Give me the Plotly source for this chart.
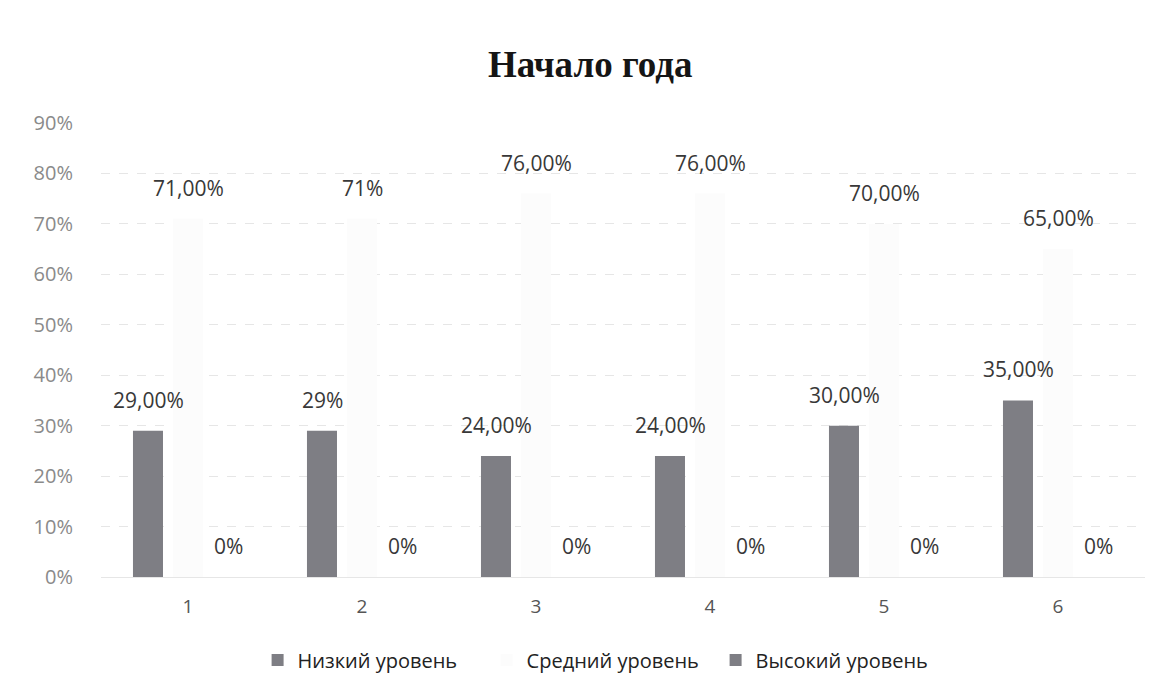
import plotly.graph_objects as go

categories = ["1", "2", "3", "4", "5", "6"]
low_values = [0.29, 0.29, 0.24, 0.24, 0.30, 0.35]
mid_values = [0.71, 0.71, 0.76, 0.76, 0.70, 0.65]
high_values = [0, 0, 0, 0, 0, 0]
low_labels = ["29,00%", "29%", "24,00%", "24,00%", "30,00%", "35,00%"]
mid_labels = ["71,00%", "71%", "76,00%", "76,00%", "70,00%", "65,00%"]
high_labels = ["0%", "0%", "0%", "0%", "0%", "0%"]
series_names = ["Низкий уровень", "Средний уровень", "Высокий уровень"]

FONT = "Open Sans, Liberation Sans, sans-serif"
label_font = dict(family=FONT, size=21, color="#383838")

fig = go.Figure()
fig.add_trace(go.Bar(x=categories, y=low_values, name=series_names[0],
                     marker=dict(color="#7e7e84", line=dict(width=0))))
fig.add_trace(go.Bar(x=categories, y=mid_values, name=series_names[1],
                     marker=dict(color="#fcfcfc", line=dict(width=0))))
fig.add_trace(go.Bar(x=categories, y=high_values, name=series_names[2],
                     marker=dict(color="#7e7e84", line=dict(width=0))))

# data labels placed above each bar through the axes (category axis: x = category index)
series = [(low_values, low_labels, -40), (mid_values, mid_labels, 0), (high_values, high_labels, 40)]
for vals, labs, dx in series:
    for idx, (v, t) in enumerate(zip(vals, labs)):
        fig.add_annotation(x=idx, y=v, text=t, showarrow=False, xshift=dx, yshift=31,
                           yanchor="middle", xanchor="center", font=label_font)

fig.update_layout(
    width=1162, height=692,
    paper_bgcolor="white", plot_bgcolor="white",
    barmode="group", bargap=0.31, bargroupgap=0.25,
    margin=dict(l=93, r=25, t=115, b=123, autoexpand=False),
    title=dict(text="<b>Начало года</b>", x=0.501, xref="container", xanchor="center",
               y=1 - 56 / 692, yanchor="middle",
               font=dict(family="Liberation Serif, Times New Roman, serif", size=37, color="#151515")),
    legend=dict(orientation="h", x=0.150, xanchor="left",
                y=-0.183, yanchor="middle",
                entrywidth=184, entrywidthmode="pixels",
                font=dict(family=FONT, size=20, color="#222"),
                traceorder="normal"),
)
fig.update_yaxes(range=[0, 0.9], dtick=0.1, tickformat=".0%",
                 showgrid=True, gridcolor="#e6e6e6", griddash="dash", gridwidth=1,
                 zeroline=False, showline=False,
                 tickfont=dict(family=FONT, size=20, color="#8a8a8a"),
                 ticks="", ticklabelstandoff=27)
fig.update_xaxes(type="category", showline=True, linecolor="#e6e6e6", linewidth=1,
                 tickfont=dict(family=FONT, size=19, color="#555"),
                 ticks="", ticklabelstandoff=12)

fig.write_html("out.html")
